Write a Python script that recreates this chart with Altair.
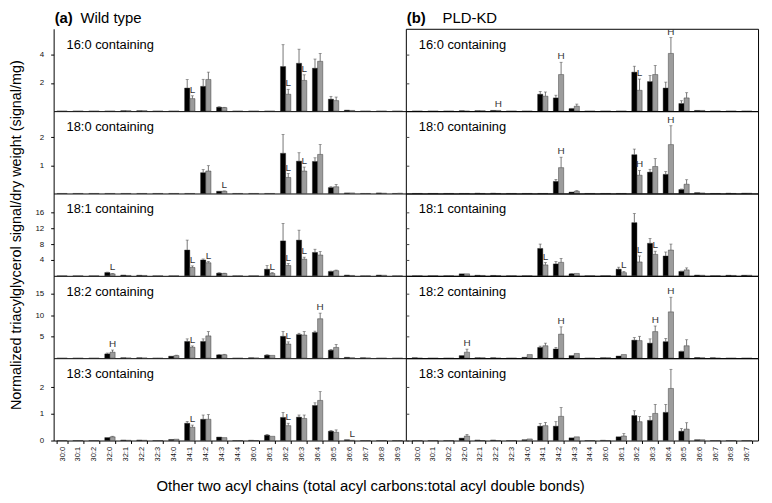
import altair as alt
import pandas as pd

FONT = "Liberation Sans"

categories = ["30:0", "30:1", "30:2", "32:0", "32:1", "32:2", "32:3", "34:0", "34:1", "34:2",
              "34:3", "34:4", "36:0", "36:1", "36:2", "36:3", "36:4", "36:5", "36:6", "36:7",
              "36:8", "36:9"]
# the PLD-KD panel's last tick label reads "36:7" in the original figure
kd_last_label = "36:7"

row_names = ["16:0 containing", "18:0 containing", "18:1 containing",
             "18:2 containing", "18:3 containing"]
row_ymax = [5.85, 2.93, 20.75, 19.2, 3.1]
ROW_H = 83
row_ticks = [[2, 4], [1, 2], [4, 8, 12, 16], [5, 10, 15], [0, 1, 2]]

# ---- Wild type: black = control, hatched = treated; *_sd = upper error bar length
wt1_ctl = [0, 0, 0, 0, 0.03, 0.03, 0, 0, 1.64, 1.76, 0.28, 0, 0, 0, 3.17, 3.40, 3.05, 0.85, 0.07, 0, 0, 0]
wt1_ctl_sd = [0, 0, 0, 0, 0, 0, 0, 0, 0.60, 0.50, 0.03, 0, 0, 0, 1.55, 1.00, 0.65, 0.20, 0, 0, 0, 0]
wt1_trt = [0, 0, 0, 0, 0.03, 0.03, 0, 0, 0.89, 2.25, 0.25, 0, 0, 0, 1.20, 2.18, 3.54, 0.75, 0.05, 0, 0, 0]
wt1_trt_sd = [0, 0, 0, 0, 0, 0, 0, 0, 0.20, 0.52, 0.02, 0, 0, 0, 0.35, 0.40, 0.56, 0.25, 0, 0, 0, 0]

wt2_ctl = [0, 0, 0, 0, 0, 0, 0, 0, 0, 0.74, 0.08, 0, 0, 0, 1.43, 1.15, 1.14, 0.21, 0.02, 0, 0.02, 0]
wt2_ctl_sd = [0, 0, 0, 0, 0, 0, 0, 0, 0, 0.11, 0, 0, 0, 0, 0.67, 0.30, 0.13, 0.03, 0, 0, 0, 0]
wt2_trt = [0, 0, 0, 0, 0, 0, 0, 0, 0, 0.80, 0.08, 0, 0, 0, 0.57, 0.80, 1.39, 0.24, 0.02, 0, 0.01, 0.01]
wt2_trt_sd = [0, 0, 0, 0, 0, 0, 0, 0, 0, 0.19, 0.01, 0, 0, 0, 0.14, 0.14, 0.35, 0.08, 0, 0, 0, 0]

wt3_ctl = [0, 0, 0, 0.83, 0.20, 0.15, 0, 0, 6.50, 4.00, 0.67, 0, 0, 1.67, 8.80, 9.00, 5.90, 1.10, 0.20, 0, 0.20, 0]
wt3_ctl_sd = [0, 0, 0, 0.10, 0, 0, 0, 0, 2.50, 0.25, 0.10, 0, 0, 0.90, 4.40, 2.50, 0.80, 0.10, 0, 0, 0, 0]
wt3_trt = [0, 0, 0, 0.50, 0.10, 0.10, 0, 0, 2.10, 3.30, 0.60, 0, 0, 0.60, 2.60, 4.20, 5.25, 1.30, 0.10, 0, 0.15, 0]
wt3_trt_sd = [0, 0, 0, 0.10, 0, 0, 0, 0, 0.40, 0.30, 0.05, 0, 0, 0.20, 0.50, 0.50, 0.85, 0.15, 0, 0, 0, 0]

wt4_ctl = [0, 0, 0, 1.00, 0.10, 0.10, 0, 0.46, 3.90, 3.90, 0.77, 0, 0.10, 0.70, 5.10, 5.50, 6.00, 1.85, 0.20, 0.10, 0, 0]
wt4_ctl_sd = [0, 0, 0, 0.20, 0, 0, 0, 0, 0.60, 0.60, 0.10, 0, 0, 0.10, 1.10, 0.30, 0.30, 0.15, 0, 0, 0, 0]
wt4_trt = [0, 0, 0, 1.40, 0.05, 0.05, 0, 0.60, 2.55, 5.20, 0.80, 0, 0.05, 0.65, 3.30, 5.40, 9.20, 2.50, 0.10, 0.05, 0, 0]
wt4_trt_sd = [0, 0, 0, 0.50, 0, 0, 0, 0.10, 0.30, 1.00, 0.10, 0, 0, 0, 0.50, 0.80, 1.30, 0.70, 0, 0, 0, 0]

wt5_ctl = [0, 0, 0, 0.11, 0.02, 0.02, 0, 0.04, 0.65, 0.80, 0.13, 0, 0.01, 0.20, 0.87, 0.88, 1.32, 0.35, 0.03, 0, 0, 0]
wt5_ctl_sd = [0, 0, 0, 0, 0, 0, 0, 0, 0.07, 0.16, 0, 0, 0, 0.03, 0.19, 0.08, 0.10, 0.03, 0, 0, 0, 0]
wt5_trt = [0, 0, 0, 0.14, 0.01, 0.01, 0, 0.05, 0.50, 0.80, 0.11, 0, 0, 0.16, 0.56, 0.83, 1.51, 0.31, 0.01, 0, 0, 0]
wt5_trt_sd = [0, 0, 0, 0.02, 0, 0, 0, 0, 0.08, 0.18, 0, 0, 0, 0, 0.09, 0.13, 0.33, 0.09, 0, 0, 0, 0]

# ---- PLD-KD
kd1_ctl = [0, 0, 0, 0.03, 0.03, 0.05, 0, 0, 1.20, 0.94, 0.18, 0, 0, 0, 2.77, 2.10, 1.64, 0.54, 0.05, 0, 0, 0]
kd1_ctl_sd = [0, 0, 0, 0, 0, 0, 0, 0, 0.20, 0.19, 0.02, 0, 0, 0, 0.42, 0.43, 0.42, 0.20, 0, 0, 0, 0]
kd1_trt = [0, 0, 0, 0, 0.03, 0.05, 0, 0, 1.06, 2.60, 0.35, 0, 0, 0, 1.48, 2.60, 4.10, 0.94, 0.05, 0, 0, 0]
kd1_trt_sd = [0, 0, 0, 0, 0, 0, 0, 0, 0.30, 0.87, 0.15, 0, 0, 0, 0.80, 0.64, 1.13, 0.37, 0, 0, 0, 0]

kd2_ctl = [0, 0, 0, 0, 0.01, 0.01, 0, 0, 0, 0.43, 0.05, 0, 0, 0, 1.38, 0.76, 0.68, 0.14, 0.03, 0, 0.01, 0.01]
kd2_ctl_sd = [0, 0, 0, 0, 0, 0, 0, 0, 0, 0.07, 0, 0, 0, 0, 0.20, 0.10, 0.10, 0.02, 0, 0, 0, 0]
kd2_trt = [0, 0, 0, 0, 0, 0, 0, 0, 0, 0.92, 0.08, 0, 0, 0, 0.65, 0.96, 1.74, 0.33, 0.02, 0, 0, 0.01]
kd2_trt_sd = [0, 0, 0, 0, 0, 0, 0, 0, 0, 0.37, 0.02, 0, 0, 0, 0.17, 0.28, 0.67, 0.16, 0, 0, 0, 0]

kd3_ctl = [0, 0, 0, 0.50, 0.15, 0.10, 0, 0, 6.90, 3.00, 0.50, 0, 0, 1.67, 13.40, 8.20, 5.00, 1.10, 0.20, 0, 0.15, 0.15]
kd3_ctl_sd = [0, 0, 0, 0, 0, 0, 0, 0, 1.10, 0.60, 0.05, 0, 0, 0.50, 2.30, 1.20, 1.00, 0.10, 0, 0, 0, 0]
kd3_trt = [0, 0, 0, 0.50, 0.10, 0.05, 0, 0, 2.75, 3.40, 0.60, 0, 0, 0.80, 3.50, 5.40, 6.50, 1.50, 0.15, 0, 0.10, 0.15]
kd3_trt_sd = [0, 0, 0, 0, 0, 0, 0, 0, 0.60, 1.00, 0, 0, 0, 0.30, 1.50, 0.80, 1.50, 0.50, 0, 0, 0, 0]

kd4_ctl = [0.10, 0, 0, 0.60, 0.10, 0.10, 0, 0.20, 2.50, 2.15, 0.60, 0, 0.10, 0.50, 4.20, 3.50, 3.85, 1.55, 0.15, 0.10, 0, 0]
kd4_ctl_sd = [0, 0, 0, 0, 0, 0, 0, 0, 0.30, 0.35, 0, 0, 0, 0, 0.60, 1.00, 0.75, 0.10, 0, 0, 0, 0]
kd4_trt = [0, 0, 0, 1.40, 0.10, 0, 0, 0.85, 2.90, 5.60, 1.10, 0, 0.10, 0.85, 4.10, 6.20, 10.80, 2.90, 0.10, 0, 0, 0]
kd4_trt_sd = [0, 0, 0, 0.70, 0, 0, 0, 0, 0.60, 1.70, 0, 0, 0, 0, 1.00, 1.30, 3.40, 1.40, 0, 0, 0, 0]

kd5_ctl = [0, 0, 0, 0.09, 0.02, 0.02, 0, 0.03, 0.54, 0.54, 0.10, 0, 0.01, 0.14, 0.94, 0.76, 1.06, 0.35, 0.03, 0, 0, 0]
kd5_ctl_sd = [0, 0, 0, 0, 0, 0, 0, 0, 0.10, 0.17, 0, 0, 0, 0, 0.18, 0.14, 0.30, 0.10, 0, 0, 0, 0]
kd5_trt = [0, 0, 0, 0.17, 0, 0, 0, 0.06, 0.56, 0.91, 0.14, 0, 0, 0.17, 0.71, 1.02, 1.96, 0.43, 0.03, 0, 0, 0]
kd5_trt_sd = [0, 0, 0, 0.06, 0, 0, 0, 0, 0.12, 0.33, 0, 0, 0, 0.09, 0.19, 0.34, 0.72, 0.24, 0, 0, 0, 0]

series_data = {
    "wt": [(wt1_ctl, wt1_ctl_sd, wt1_trt, wt1_trt_sd), (wt2_ctl, wt2_ctl_sd, wt2_trt, wt2_trt_sd),
           (wt3_ctl, wt3_ctl_sd, wt3_trt, wt3_trt_sd), (wt4_ctl, wt4_ctl_sd, wt4_trt, wt4_trt_sd),
           (wt5_ctl, wt5_ctl_sd, wt5_trt, wt5_trt_sd)],
    "kd": [(kd1_ctl, kd1_ctl_sd, kd1_trt, kd1_trt_sd), (kd2_ctl, kd2_ctl_sd, kd2_trt, kd2_trt_sd),
           (kd3_ctl, kd3_ctl_sd, kd3_trt, kd3_trt_sd), (kd4_ctl, kd4_ctl_sd, kd4_trt, kd4_trt_sd),
           (kd5_ctl, kd5_ctl_sd, kd5_trt, kd5_trt_sd)],
}

# significance letters (placed over the hatched bar)
letters = [
    ("wt", 0, "34:1", "L"), ("wt", 0, "36:2", "L"), ("wt", 0, "36:3", "L"),
    ("kd", 0, "32:2", "H"), ("kd", 0, "34:2", "H"), ("kd", 0, "36:2", "L"), ("kd", 0, "36:4", "H"),
    ("wt", 1, "34:3", "L"), ("wt", 1, "36:2", "L"), ("wt", 1, "36:3", "L"),
    ("kd", 1, "34:2", "H"), ("kd", 1, "36:2", "H"), ("kd", 1, "36:4", "H"),
    ("wt", 2, "32:0", "L"), ("wt", 2, "34:1", "L"), ("wt", 2, "34:2", "L"), ("wt", 2, "36:1", "L"),
    ("wt", 2, "36:2", "L"), ("wt", 2, "36:3", "L"),
    ("kd", 2, "34:1", "L"), ("kd", 2, "36:1", "L"), ("kd", 2, "36:2", "L"), ("kd", 2, "36:3", "L"),
    ("wt", 3, "32:0", "H"), ("wt", 3, "34:1", "L"), ("wt", 3, "36:2", "L"), ("wt", 3, "36:4", "H"),
    ("kd", 3, "32:0", "H"), ("kd", 3, "34:2", "H"), ("kd", 3, "36:3", "H"), ("kd", 3, "36:4", "H"),
    ("wt", 4, "34:1", "L"), ("wt", 4, "36:2", "L"), ("wt", 4, "36:6", "L"),
]

SERIES = ["ctl", "trt"]


def panel(geno, r):
    ctl, ctl_sd, trt, trt_sd = series_data[geno][r]
    recs = []
    for i, c in enumerate(categories):
        recs.append({"cat": c, "series": "ctl", "value": ctl[i], "sd": ctl_sd[i], "top": ctl[i] + ctl_sd[i]})
        recs.append({"cat": c, "series": "trt", "value": trt[i], "sd": trt_sd[i], "top": trt[i] + trt_sd[i]})
    df = pd.DataFrame(recs)
    lrecs = []
    for g, rr, c, t in letters:
        if g == geno and rr == r:
            i = categories.index(c)
            lrecs.append({"cat": c, "series": "trt", "top": trt[i] + trt_sd[i], "letter": t})
    ldf = pd.DataFrame(lrecs, columns=["cat", "series", "top", "letter"])

    xscale = alt.Scale(domain=categories, paddingInner=0.35,
                       paddingOuter=0.2 if geno == "wt" else 0.4)
    bottom = r == 4
    if bottom:
        xaxis_kw = dict(labelAngle=270, labelFontSize=7.5, labelColor="#111111", tickBand="extent",
                        tickSize=3, tickColor="black", domainColor="black", labelPadding=3,
                        domain=(geno == "wt"), labelFont=FONT)
        if geno == "wt":
            xaxis_kw.update(title="Other two acyl chains (total acyl carbons:total acyl double bonds)",
                            titleFontSize=15, titleFontWeight="normal", titleFont=FONT,
                            titleX=319, titleAlign="center", titlePadding=18, titleColor="black")
        else:
            xaxis_kw.update(title=None,
                            labelExpr="datum.value == '36:9' ? '%s' : datum.value" % kd_last_label)
        xaxis = alt.Axis(**xaxis_kw)
    else:
        xaxis = alt.Axis(title=None, labels=False, ticks=False, domain=(geno == "wt"),
                         domainColor="black")

    yscale = alt.Scale(domain=[0, row_ymax[r]], nice=False, zero=True)
    if geno == "wt":
        ykw = dict(values=row_ticks[r], tickSize=3, labelFontSize=8, labelColor="#111111",
                   tickColor="black", domainColor="black", grid=False, labelFont=FONT,
                   labelPadding=7)
        if r == 2:
            ykw.update(title="Normalized triacylglycerol signal/dry weight (signal/mg)",
                       titleFontSize=14.5, titleFontWeight="normal", titleFont=FONT,
                       titleColor="black", titlePadding=12)
        else:
            ykw.update(title=None)
        yaxis = alt.Axis(**ykw)
    else:
        yaxis = alt.Axis(values=row_ticks[r], tickSize=3, labels=False, domain=False, grid=False,
                         title=None, offset=-3, tickColor="#444")

    X = alt.X("cat:N", scale=xscale, axis=xaxis, sort=categories)
    XO = alt.XOffset("series:N", scale=alt.Scale(domain=SERIES, paddingInner=0, paddingOuter=0))

    base = alt.Chart(df).encode(x=X, xOffset=XO)
    bars = base.mark_bar(stroke="#222", strokeWidth=0.4).encode(
        y=alt.Y("value:Q", scale=yscale, axis=yaxis),
        fill=alt.Fill("series:N", scale=alt.Scale(domain=SERIES, range=["#000000", "#9c9c9c"]),
                      legend=None),
    )
    errs = base.transform_filter("datum.sd > 0")
    rules = errs.mark_rule(strokeWidth=0.8).encode(
        y=alt.Y("value:Q", scale=yscale, axis=yaxis), y2="top:Q", color=alt.value("#555555"))
    caps = errs.mark_tick(orient="horizontal", size=3, thickness=0.8).encode(
        y=alt.Y("top:Q", scale=yscale, axis=yaxis), color=alt.value("#555555"))
    layers = [bars, rules, caps]
    if len(ldf):
        txt = alt.Chart(ldf).mark_text(fontSize=10, baseline="bottom", dy=-1, font=FONT).encode(
            x=X, xOffset=XO, y=alt.Y("top:Q", scale=yscale, axis=yaxis), text="letter:N",
            color=alt.value("#333333"))
        layers.append(txt)
    one = pd.DataFrame({"k": [0]})
    name = alt.Chart(one).mark_text(text=row_names[r], align="left", baseline="alphabetic",
                                    fontSize=13, font=FONT).encode(
        x=alt.value(13), y=alt.value(20), color=alt.value("black"))
    layers.append(name)
    if r == 0:
        tag, label, lx = ("(a)", "Wild type", 27) if geno == "wt" else ("(b)", "PLD-KD", 37)
        layers.append(alt.Chart(one).mark_text(text=tag, align="left", baseline="alphabetic",
                                               fontSize=15, fontWeight="bold", font=FONT).encode(
            x=alt.value(1), y=alt.value(-6), color=alt.value("black")))
        layers.append(alt.Chart(one).mark_text(text=label, align="left", baseline="alphabetic",
                                               fontSize=15, font=FONT).encode(
            x=alt.value(lx), y=alt.value(-6), color=alt.value("black")))
    ch = alt.layer(*layers).properties(width=355, height=ROW_H)
    if geno == "kd":
        ch = ch.properties(view=alt.ViewBackground(stroke="black", strokeWidth=1))
    return ch


panels = []
for r in range(5):
    panels.append(panel("wt", r))
    panels.append(panel("kd", r))

chart = alt.concat(*panels, columns=2, spacing=0, bounds="flush").properties(
    padding={"left": 0, "top": 0, "right": 5, "bottom": 5}
).configure_view(strokeWidth=0).configure_axis(labelFont=FONT, titleFont=FONT)

chart.save("out.html", embed_options={"renderer": "svg", "actions": False})
